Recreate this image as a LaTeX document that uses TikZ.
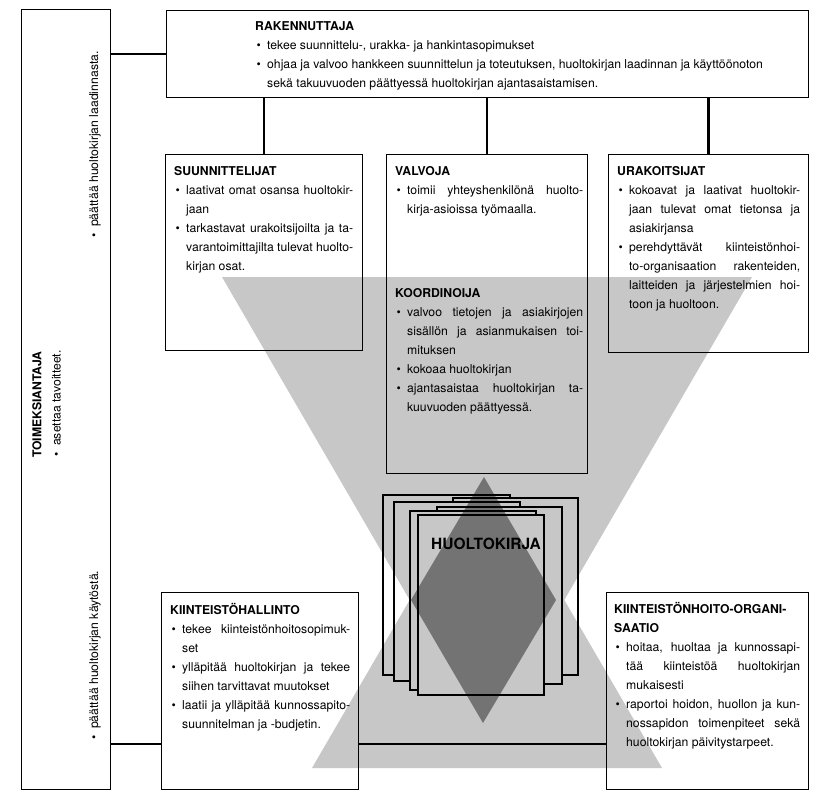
\documentclass[tikz,border=0pt]{standalone}
\usepackage{fontspec}
\setmainfont{TeX Gyre Heros}
\definecolor{xgray}{RGB}{199,199,199}
\newcommand\bl{\makebox[12pt][l]{\hspace{1.5pt}\textbullet}}
\newcommand\ci{\hspace*{12pt}}
\newcommand\st{\rule{0pt}{12pt}}
\newcommand\jw{160pt}
\newcommand\jl[1]{\makebox[\jw][s]{#1}}
\newcommand\xfill{%
  \fill[xgray] (222,277) -- (752,277) -- (487,733) -- cycle;
  \fill[xgray] (312,768) -- (662,768) -- (487,467) -- cycle;}
\begin{document}
\begin{tikzpicture}[x=1pt,y=-1pt,
  box/.style={draw, line width=1.1pt, inner sep=0pt, anchor=north west},
  conn/.style={line width=2.6pt},
  txt/.style={anchor=north west, align=left, inner sep=0pt, font=\fontsize{12.2}{19}\selectfont},
  rtxt/.style={rotate=90, anchor=base west, inner sep=0pt, font=\fontsize{12.2}{19}\selectfont},
  pagebox/.style={line width=1.3pt}]
\fill[white] (0,0) rectangle (820,798);
\useasboundingbox (0,0) rectangle (820,798);
% grey hourglass
\xfill
% boxes
\node[box, minimum width=89pt, minimum height=780pt] (toim) at (21,9) {};
\node[box, minimum width=642pt, minimum height=87pt] (rak) at (166,10) {};
\node[box, minimum width=197pt, minimum height=196pt] (suun) at (165,154) {};
\node[box, minimum width=201pt, minimum height=319pt] (valv) at (386,154) {};
\node[box, minimum width=200pt, minimum height=198pt] (urak) at (608,154) {};
\node[box, minimum width=197pt, minimum height=197pt] (hall) at (161,592) {};
\node[box, minimum width=202pt, minimum height=197pt] (hoito) at (606,592) {};
% connectors
\coordinate (low) at (0,744);
\draw[conn] (rak.west) -- (rak.west -| toim.east);
\draw[conn] (suun.north) -- (suun.north |- rak.south);
\draw[conn] (valv.north) -- (valv.north |- rak.south);
\draw[conn] (urak.north) -- (urak.north |- rak.south);
\draw[conn] (toim.east |- low) -- (hall.west |- low);
\draw[conn] (hall.east |- low) -- (hoito.west |- low);
% book pages
\foreach \xa/\ya/\xb/\yb in {383/495/510/675, 453/498/578/675, 394/502/520/681,
    437/507/562/684, 410/511/536/690, 418/515/544/695}{
  \fill[white] (\xa,\ya) rectangle (\xb,\yb);
  \begin{scope}
    \clip (\xa,\ya) rectangle (\xb,\yb);
    \xfill
  \end{scope}
  \draw[pagebox] (\xa,\ya) rectangle (\xb,\yb);
}
% diamond
\fill[black, opacity=0.42] (484,477) -- (556,600) -- (483,723) -- (411,600) -- cycle;
\node[anchor=base, inner sep=0pt, font=\bfseries\fontsize{15.5}{15.5}\selectfont] (hk) at (486,549) {HUOLTOKIRJA};
% texts
\node[txt] (t-rak) at (255,18) {\st\textbf{RAKENNUTTAJA}\\
\bl tekee suunnittelu-, urakka- ja hankintasopimukset\\
\bl ohjaa ja valvoo hankkeen suunnittelun ja toteutuksen, huoltokirjan laadinnan ja käyttöönoton\\
\ci sekä takuuvuoden päättyessä huoltokirjan ajantasaistamisen.};
\renewcommand\jw{167pt}
\node[txt] (t-suun) at (174,163) {\st\textbf{SUUNNITTELIJAT}\\
\bl\jl{laativat omat osansa huoltokir-}\\
\ci jaan\\
\bl\jl{tarkastavat urakoitsijoilta ja ta-}\\
\ci\jl{varantoimittajilta tulevat huolto-}\\
\ci kirjan osat.};
\renewcommand\jw{176pt}
\node[txt] (t-valv) at (395,163) {\st\textbf{VALVOJA}\\
\bl\jl{toimii yhteyshenkilönä huolto-}\\
\ci kirja-asioissa työmaalla.};
\node[txt] (t-koord) at (395,285) {\st\textbf{KOORDINOIJA}\\
\bl\jl{valvoo tietojen ja asiakirjojen}\\
\ci\jl{sisällön ja asianmukaisen toi-}\\
\ci mituksen\\
\bl kokoaa huoltokirjan\\
\bl\jl{ajantasaistaa huoltokirjan ta-}\\
\ci kuuvuoden päättyessä.};
\renewcommand\jw{171pt}
\node[txt] (t-urak) at (617,163) {\st\textbf{URAKOITSIJAT}\\
\bl\jl{kokoavat ja laativat huoltokir-}\\
\ci\jl{jaan tulevat omat tietonsa ja}\\
\ci asiakirjansa\\
\bl\jl{perehdyttävät kiinteistönhoi-}\\
\ci\jl{to-organisaation rakenteiden,}\\
\ci\jl{laitteiden ja järjestelmien hoi-}\\
\ci toon ja huoltoon.};
\renewcommand\jw{168pt}
\node[txt] (t-hall) at (170,602) {\st\textbf{KIINTEISTÖHALLINTO}\\
\bl\jl{tekee kiinteistönhoitosopimuk-}\\
\ci set\\
\bl\jl{ylläpitää huoltokirjan ja tekee}\\
\ci siihen tarvittavat muutokset\\
\bl\jl{laatii ja ylläpitää kunnossapito-}\\
\ci suunnitelman ja -budjetin.};
\renewcommand\jw{174pt}
\node[txt] (t-hoito) at (614,601) {\st\textbf{KIINTEISTÖNHOITO-ORGANI-}\\
\textbf{SAATIO}\\
\bl\jl{hoitaa, huoltaa ja kunnossapi-}\\
\ci\jl{tää kiinteistöä huoltokirjan}\\
\ci mukaisesti\\
\bl\jl{raportoi hoidon, huollon ja kun-}\\
\ci\jl{nossapidon toimenpiteet sekä}\\
\ci huoltokirjan päivitystarpeet.};
% rotated texts in the left box
\node[rtxt] (t-toim1) at (41.5,458) {\textbf{TOIMEKSIANTAJA}};
\node[rtxt] (t-toim2) at (60.5,458) {\bl asettaa tavoitteet.};
\node[rtxt] (t-toim3) at (98,239) {\bl päättää huoltokirjan laadinnasta.};
\node[rtxt] (t-toim4) at (98,741) {\bl päättää huoltokirjan käytöstä.};
\end{tikzpicture}
\end{document}
